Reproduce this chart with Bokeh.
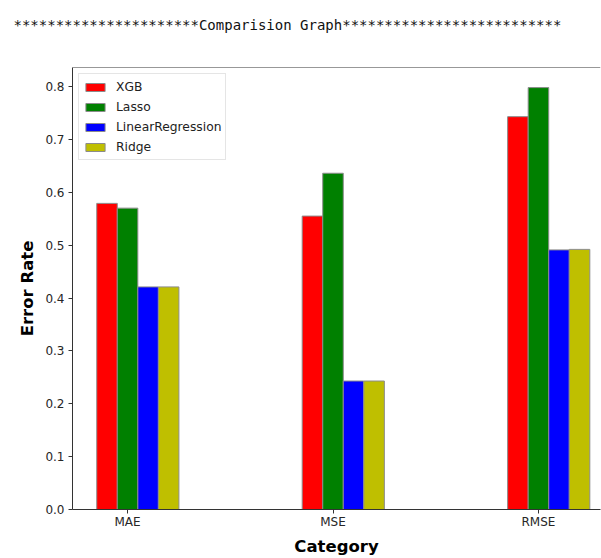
from bokeh.plotting import figure
from bokeh.models import (ColumnDataSource, FixedTicker, Range1d, Span,
                          Legend, LegendItem, Title)
from bokeh.embed import file_html
from bokeh.resources import INLINE

categories = ["MAE", "MSE", "RMSE"]
models = ["XGB", "Lasso", "LinearRegression", "Ridge"]
xgb = [0.579, 0.555, 0.743]
lasso = [0.570, 0.636, 0.798]
linear_regression = [0.421, 0.243, 0.491]
ridge = [0.421, 0.243, 0.492]
colors = ["#ff0000", "#008000", "#0000ff", "#bfbf00"]
y_ticks = [0.0, 0.1, 0.2, 0.3, 0.4, 0.5, 0.6, 0.7, 0.8]
title_text = "**********************Comparision Graph**************************"

series = [xgb, lasso, linear_regression, ridge]
offsets = [-0.1, 0.0, 0.1, 0.2]
bar_width = 0.1
y_max = 0.836

p = figure(width=601, height=558, output_backend="svg", toolbar_location=None,
           x_range=Range1d(-0.268, 2.302), y_range=Range1d(0, y_max),
           min_border_left=72, min_border_right=1, min_border_top=67,
           min_border_bottom=48, title=None)
p.outline_line_color = None
p.xgrid.visible = False
p.ygrid.visible = False
p.background_fill_color = "white"
p.border_fill_color = "white"

items = []
for name, vals, off, col in zip(models, series, offsets, colors):
    src = ColumnDataSource(dict(x=[i + off for i in range(len(categories))], top=vals))
    r = p.vbar(x="x", top="top", width=bar_width, source=src, fill_color=col,
               line_color="#8c8c8c", line_width=1)
    items.append(LegendItem(label=name, renderers=[r]))

p.add_layout(Span(location=y_max, dimension="width", line_color="#333333",
                  line_width=1))

legend = Legend(items=items, location="top_left")
legend.margin = 6
legend.padding = 4
legend.spacing = 3
legend.glyph_width = 24
legend.glyph_height = 10
legend.label_height = 17
legend.label_standoff = 9
legend.label_text_font = "DejaVu Sans"
legend.label_text_font_size = "12.3px"
legend.label_text_color = "#222222"
legend.border_line_color = "#cccccc"
legend.border_line_width = 1
legend.background_fill_alpha = 0.8
p.add_layout(legend, "center")

for ax in (p.xaxis[0], p.yaxis[0]):
    ax.axis_line_color = "#333333"
    ax.axis_line_width = 1
    ax.major_tick_line_color = "#333333"
    ax.major_tick_out = 4
    ax.major_tick_in = 0
    ax.minor_tick_line_color = None
    ax.major_label_text_font = "DejaVu Sans"
    ax.major_label_text_font_size = "12px"
    ax.major_label_text_color = "#262626"
    ax.axis_label_text_font = "DejaVu Sans"
    ax.axis_label_text_font_size = "16.5px"
    ax.axis_label_text_font_style = "bold"
    ax.axis_label_text_color = "#000000"

p.xaxis[0].ticker = FixedTicker(ticks=list(range(len(categories))))
p.xaxis[0].major_label_overrides = {i: c for i, c in enumerate(categories)}
p.xaxis[0].axis_label = "Category"
p.xaxis[0].axis_label_standoff = 5
p.xaxis[0].major_label_standoff = 1

p.yaxis[0].ticker = FixedTicker(ticks=y_ticks)
p.yaxis[0].major_label_overrides = {t: f"{t:.1f}" for t in y_ticks}
p.yaxis[0].axis_label = "Error Rate"
p.yaxis[0].axis_label_standoff = 5
p.yaxis[0].major_label_standoff = 4

# spacer nearest the frame, then the real title outside it
spacer = Title(text=" ", text_font="DejaVu Sans Mono", text_font_size="14px",
               align="left", standoff=17)
p.add_layout(spacer, "above")

title = Title(text=title_text, text_font="DejaVu Sans Mono", text_font_size="14px",
              text_font_style="normal", text_color="#111111", align="left",
              vertical_align="bottom", offset=-59, standoff=0)
p.add_layout(title, "above")

open("out.html", "w").write(file_html(p, INLINE))
